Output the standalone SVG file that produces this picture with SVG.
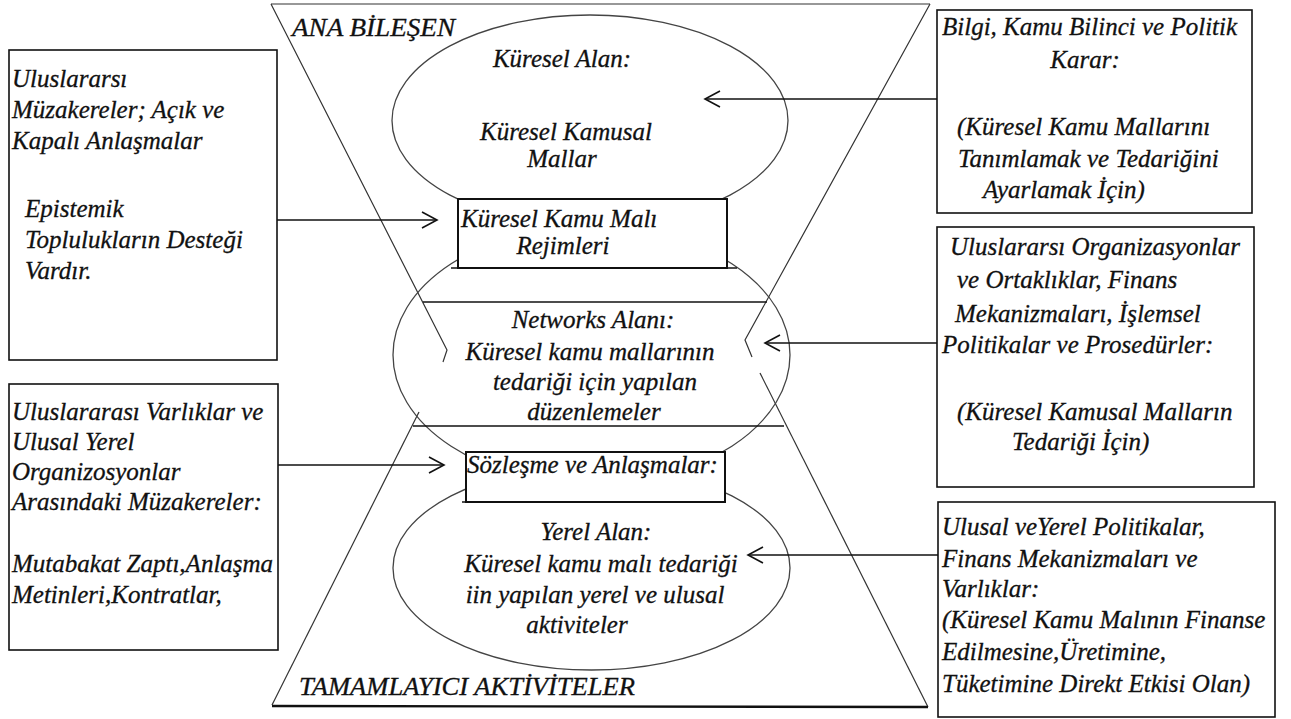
<svg xmlns="http://www.w3.org/2000/svg" width="1291" height="719" viewBox="0 0 1291 719">
<style>
  text { font-family: "Liberation Serif", "Times New Roman", "DejaVu Serif", serif; font-style: italic; font-size: 25px; fill: #111; stroke: #111; stroke-width: 0.3; }
  .c { text-anchor: middle; }
  .box { fill: #fff; stroke: #111; stroke-width: 1.6; }
  .ibox { fill: #fff; stroke: #111; stroke-width: 2; }
  .ell { fill: none; stroke: #444; stroke-width: 1.3; }
  .hg { fill: none; stroke: #333; stroke-width: 1.2; }
  .hl { fill: none; stroke: #111; stroke-width: 1.6; }
  .arr { fill: none; stroke: #111; stroke-width: 1.6; marker-end: url(#open); }
</style>
<defs>
  <marker id="open" markerUnits="userSpaceOnUse" viewBox="-17 -9 19 18" refX="0" refY="0" markerWidth="19" markerHeight="18" orient="auto">
    <path d="M-15,-8 L0,0 L-15,8" fill="none" stroke="#111" stroke-width="1.6"/>
  </marker>
</defs>
<rect width="1291" height="719" fill="#fff"/>

<g id="hourglass">
  <line x1="271" y1="4" x2="930" y2="4" class="hg"/>
  <polyline points="271,4 447,350 443,362" class="hg"/>
  <polyline points="930,4 745,340 752,357" class="hg"/>
  <line x1="419" y1="412" x2="272" y2="705" class="hg"/>
  <line x1="760" y1="373" x2="928" y2="707" class="hg"/>
  <line x1="272" y1="706" x2="928" y2="707" stroke="#111" stroke-width="2.4"/>
  <text x="292" y="36" textLength="163" lengthAdjust="spacingAndGlyphs">ANA BİLEŞEN</text>
  <text x="299" y="695" textLength="336" lengthAdjust="spacingAndGlyphs">TAMAMLAYICI AKTİVİTELER</text>
</g>

<g id="global-area">
  <ellipse cx="590" cy="120.5" rx="198" ry="105.5" class="ell"/>
  <text x="562" y="67" class="c">Küresel Alan:</text>
  <text x="566" y="140" class="c">Küresel Kamusal</text>
  <text x="562" y="167" class="c">Mallar</text>
</g>

<g id="networks-area">
  <ellipse cx="591.5" cy="355" rx="198.5" ry="129" class="ell"/>
  <line x1="423" y1="302" x2="767" y2="302" class="hl"/>
  <line x1="413" y1="426" x2="784" y2="426" class="hl"/>
  <text x="593" y="328" class="c">Networks Alanı:</text>
  <text x="590" y="360" class="c">Küresel kamu mallarının</text>
  <text x="595" y="390" class="c">tedariği için yapılan</text>
  <text x="594" y="420" class="c">düzenlemeler</text>
</g>

<g id="local-area">
  <ellipse cx="591.5" cy="568" rx="198.5" ry="102" class="ell"/>
  <text x="596" y="540" class="c">Yerel Alan:</text>
  <text x="601" y="572" class="c">Küresel kamu malı tedariği</text>
  <text x="595" y="603" class="c">iin yapılan yerel ve ulusal</text>
  <text x="577" y="633" class="c">aktiviteler</text>
</g>

<g id="regimes-box">
  <rect x="458" y="199" width="269" height="69" class="ibox"/>
  <line x1="451" y1="268" x2="737" y2="268" class="hl"/>
  <text x="461" y="227">Küresel Kamu Malı</text>
  <text x="563" y="254" class="c">Rejimleri</text>
</g>

<g id="contracts-box">
  <rect x="466" y="452" width="259" height="50" class="ibox"/>
  <line x1="462" y1="502" x2="725" y2="502" class="hl"/>
  <text x="467" y="473">Sözleşme ve Anlaşmalar:</text>
</g>

<g id="left-box-1">
  <rect x="9" y="50" width="268" height="310" class="box"/>
  <text x="12" y="87">Uluslararsı</text>
  <text x="12" y="118">Müzakereler; Açık ve</text>
  <text x="12" y="149">Kapalı Anlaşmalar</text>
  <text x="25" y="217">Epistemik</text>
  <text x="25" y="248">Toplulukların Desteği</text>
  <text x="25" y="279">Vardır.</text>
</g>

<g id="left-box-2">
  <rect x="9" y="384" width="269" height="266" class="box"/>
  <text x="12" y="420">Uluslararası Varlıklar ve</text>
  <text x="12" y="450">Ulusal Yerel</text>
  <text x="12" y="480">Organizosyonlar</text>
  <text x="12" y="510">Arasındaki Müzakereler:</text>
  <text x="12" y="572">Mutabakat Zaptı,Anlaşma</text>
  <text x="12" y="603">Metinleri,Kontratlar,</text>
</g>

<g id="right-box-1">
  <rect x="937" y="10" width="315" height="203" class="box"/>
  <text x="942" y="35">Bilgi, Kamu Bilinci ve Politik</text>
  <text x="1085" y="68" class="c">Karar:</text>
  <text x="957" y="135">(Küresel Kamu Mallarını</text>
  <text x="958" y="167">Tanımlamak ve Tedariğini</text>
  <text x="983" y="198">Ayarlamak İçin)</text>
</g>

<g id="right-box-2">
  <rect x="937" y="227" width="317" height="260" class="box"/>
  <text x="950" y="255">Uluslararsı Organizasyonlar</text>
  <text x="957" y="288">ve Ortaklıklar, Finans</text>
  <text x="955" y="322">Mekanizmaları, İşlemsel</text>
  <text x="942" y="353">Politikalar ve Prosedürler:</text>
  <text x="957" y="420">(Küresel Kamusal Malların</text>
  <text x="1012" y="450">Tedariği İçin)</text>
</g>

<g id="right-box-3">
  <rect x="938" y="502" width="337" height="215" class="box"/>
  <text x="942" y="535">Ulusal veYerel Politikalar,</text>
  <text x="942" y="567">Finans Mekanizmaları ve</text>
  <text x="942" y="597">Varlıklar:</text>
  <text x="942" y="628">(Küresel Kamu Malının Finanse</text>
  <text x="942" y="660">Edilmesine,Üretimine,</text>
  <text x="942" y="692">Tüketimine Direkt Etkisi Olan)</text>
</g>

<g id="connectors">
  <line x1="937" y1="99" x2="705" y2="99" class="arr"/>
  <line x1="277" y1="220" x2="437" y2="220" class="arr"/>
  <line x1="937" y1="343" x2="765" y2="343" class="arr"/>
  <line x1="278" y1="465" x2="444" y2="465" class="arr"/>
  <line x1="938" y1="555" x2="748" y2="555" class="arr"/>
</g>
</svg>
